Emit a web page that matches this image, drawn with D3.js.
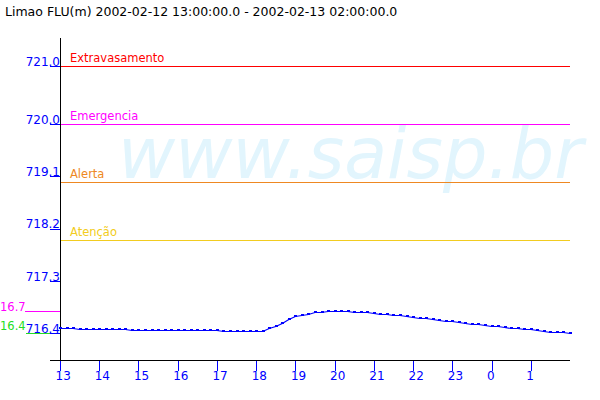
<!DOCTYPE html>
<html>
<head>
<meta charset="utf-8">
<script src="https://cdn.jsdelivr.net/npm/d3@7/dist/d3.min.js"></script>
<style>
  html, body { margin: 0; padding: 0; background: #fff; }
  svg { display: block; font-family: "DejaVu Sans", sans-serif; }
</style>
</head>
<body>
<svg id="chart" width="600" height="400"></svg>
<script>
// ---- data ----
const title = "Limao FLU(m) 2002-02-12 13:00:00.0 - 2002-02-13 02:00:00.0";
const startTime = new Date(2002, 1, 12, 13, 0);
const endTime = new Date(2002, 1, 13, 2, 0);
const stepMinutes = 10;
const levels = [
  716.49, 716.49, 716.49, 716.47, 716.47, 716.47, 716.47, 716.47, 716.47, 716.47,
  716.47, 716.46, 716.46, 716.46, 716.46, 716.46, 716.46, 716.46, 716.46, 716.46,
  716.46, 716.46, 716.46, 716.46, 716.46, 716.44, 716.44, 716.44, 716.44, 716.44,
  716.44, 716.44, 716.49, 716.53, 716.57, 716.65, 716.69, 716.72, 716.74, 716.77,
  716.77, 716.78, 716.78, 716.78, 716.78, 716.77, 716.77, 716.77, 716.75, 716.73,
  716.73, 716.71, 716.71, 716.70, 716.68, 716.66, 716.66, 716.65, 716.63, 716.61,
  716.61, 716.59, 716.58, 716.56, 716.56, 716.54, 716.53, 716.53, 716.51, 716.49,
  716.49, 716.47, 716.47, 716.46, 716.44, 716.42, 716.42, 716.42, 716.40
];
const thresholdNames = ["Extravasamento", "Emergencia", "Alerta", "Atenção"];
const thresholdValues = [721.0, 720.0, 719.0, 718.0];
const thresholdColors = ["#ff0000", "#ff00ff", "#ee8822", "#f2cc20"];
const yTickValues = [716.4, 717.3, 718.2, 719.1, 720.0, 721.0];
const xTickHours = [13, 14, 15, 16, 17, 18, 19, 20, 21, 22, 23, 0, 1];
const watermark = "www.saisp.br";

// ---- layout ----
const svg = d3.select("#chart");
const mLeft = 60, mRight = 570, mTop = 40, mBottom = 360;

const x = d3.scaleTime().domain([startTime, endTime]).range([mLeft, mRight]);
const y = d3.scaleLinear().domain([715.94, 721.45]).range([mBottom, mTop]);

const points = levels.map((v, i) => ({ t: new Date(startTime.getTime() + i * stepMinutes * 60000), v }));

// title
svg.append("text").attr("x", 5).attr("y", 16)
  .attr("font-size", "12.5px").attr("fill", "#000").text(title);

// watermark
svg.append("text").attr("x", 118).attr("y", 178)
  .attr("font-size", "72px").attr("font-style", "italic")
  .attr("fill", "#e2f5fd")
  .attr("textLength", 465).attr("lengthAdjust", "spacingAndGlyphs")
  .text(watermark);

// thresholds
const th = svg.append("g");
thresholdValues.forEach((v, i) => {
  const yy = Math.round(y(v)) + 0.5;
  th.append("line").attr("x1", mLeft).attr("x2", mRight).attr("y1", yy).attr("y2", yy)
    .attr("stroke", thresholdColors[i]).attr("stroke-width", 1);
  th.append("text").attr("x", 70).attr("y", yy - 5)
    .attr("font-size", "11.5px").attr("fill", thresholdColors[i]).text(thresholdNames[i]);
});

// max/min markers at the left
const vMax = d3.max(levels), vMin = d3.min(levels);
const yMax = Math.round(y(vMax)) + 0.5, yMin = Math.round(y(vMin)) + 0.5;
svg.append("line").attr("x1", 25).attr("x2", mLeft).attr("y1", yMax).attr("y2", yMax).attr("stroke", "#ff00ff");
svg.append("text").attr("x", 0).attr("y", yMax - 1)
  .attr("font-size", "11.5px").attr("fill", "#ff00ff").text(vMax.toFixed(2).slice(1, 5));
svg.append("line").attr("x1", 26).attr("x2", mLeft).attr("y1", yMin).attr("y2", yMin).attr("stroke", "#22dd22");
svg.append("text").attr("x", 0).attr("y", yMin - 4)
  .attr("font-size", "11.5px").attr("fill", "#22dd22").text(vMin.toFixed(2).slice(1, 5));

// y axis
const yAxis = d3.axisLeft(y).tickValues(yTickValues).tickFormat(d3.format(".1f")).tickSize(10);
const gy = svg.append("g").attr("transform", `translate(${mLeft},0)`).call(yAxis);
gy.select(".domain").remove();
gy.selectAll(".tick line").attr("stroke", "#0000ff").attr("shape-rendering", "crispEdges");
gy.selectAll(".tick text").attr("x", 0).attr("dy", null).attr("y", -1)
  .attr("fill", "#0000ff").attr("font-size", "12px").attr("font-family", "DejaVu Sans, sans-serif");

// x axis
const xTickDates = xTickHours.map(h => {
  const d = new Date(startTime); d.setHours(h, 0, 0, 0);
  if (h < startTime.getHours()) d.setDate(d.getDate() + 1);
  return d;
});
const xAxis = d3.axisBottom(x).tickValues(xTickDates).tickFormat(d3.timeFormat("%-H")).tickSize(11);
const gx = svg.append("g").attr("transform", `translate(0,${mBottom})`).call(xAxis);
gx.select(".domain").remove();
gx.selectAll(".tick line").attr("stroke", "#0000ff").attr("shape-rendering", "crispEdges");
gx.selectAll(".tick text").attr("text-anchor", "start").attr("x", -5).attr("dy", null).attr("y", 20)
  .attr("fill", "#0000ff").attr("font-size", "12px").attr("font-family", "DejaVu Sans, sans-serif");

// axis lines
svg.append("line").attr("x1", mLeft + 0.5).attr("x2", mLeft + 0.5).attr("y1", mTop - 2).attr("y2", mBottom)
  .attr("stroke", "#000");
svg.append("line").attr("x1", 50).attr("x2", mRight).attr("y1", mBottom + 0.5).attr("y2", mBottom + 0.5)
  .attr("stroke", "#000");

// data line
const line = d3.line().x(d => x(d.t)).y(d => Math.round(y(d.v)) + 0.5);
svg.append("path").datum(points).attr("d", line)
  .attr("fill", "none").attr("stroke", "#0000ff").attr("stroke-width", 1.2);
svg.append("g").selectAll("rect").data(points).join("rect")
  .attr("x", d => Math.round(x(d.t)) - 1).attr("y", d => Math.round(y(d.v)) - 1)
  .attr("width", 3).attr("height", 2).attr("fill", "#0000ff");
</script>
</body>
</html>
